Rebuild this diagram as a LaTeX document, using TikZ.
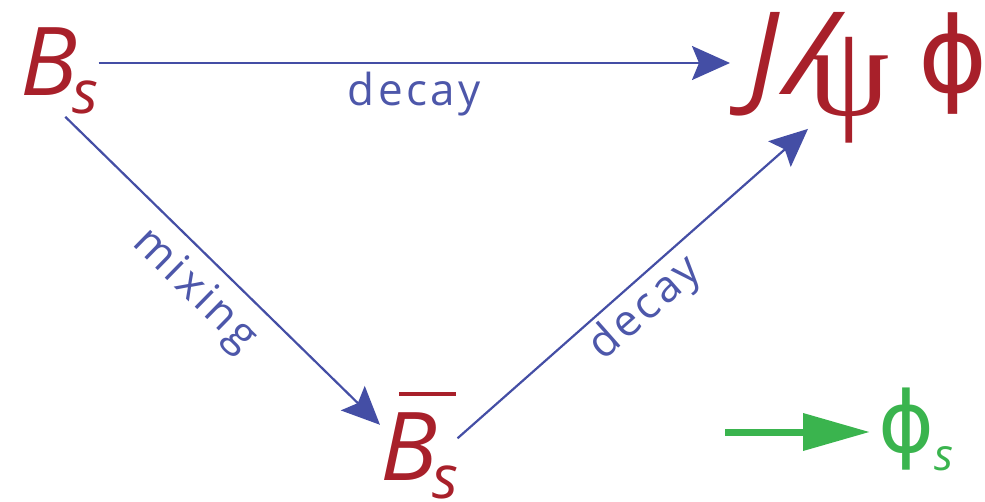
\documentclass[tikz,border=0pt]{standalone}
\usepackage{graphicx}
\usepackage{fontspec}
\setmainfont{Open Sans}
\newfontfamily\greekserif{Liberation Serif}
\newfontfamily\greeksans{DejaVu Sans}
\newfontfamily\lblfont[LetterSpace=8]{Open Sans}
\usetikzlibrary{arrows.meta,positioning}
\definecolor{meson}{RGB}{168,32,42}
\definecolor{trans}{RGB}{68,78,165}
\definecolor{phase}{RGB}{58,180,78}
\newcommand{\lowsub}[2][60]{\raisebox{-18pt}{\fontsize{#1}{#1}\selectfont\itshape #2}}

\begin{document}
\begin{tikzpicture}[x=1pt,y=-1pt,
    part/.style={inner sep=0pt,anchor=base west,text=meson,font=\fontsize{95}{95}\selectfont},
    lbl/.style={inner sep=0pt,text=trans!95,font=\lblfont\fontsize{44}{44}\selectfont},
    arr/.style={draw=trans,line width=2.2pt,-{Stealth[length=38pt,width=34pt,inset=7pt]}}]
      \useasboundingbox (0,0) rectangle (985,501);
      % mesons and final state
      \node[part] (Bs) at (20,95) {\itshape B\kern-0.05em\lowsub{s}};
      \node[part] (Bbar) at (380,480) {\itshape\rlap{\kern0.2em\rule[84pt]{57pt}{4pt}}B\kern-0.05em\lowsub{s}};
      \node[part] (Jpsi) at (748,120) {\raisebox{26pt}{\fontsize{115}{115}\selectfont\itshape J\kern0.06em\scalebox{1.2}[1]{/}}\kern-0.27em\raisebox{5pt}{\greekserif\fontsize{130}{130}\selectfont ψ}\kern0.30em\raisebox{28pt}{\greeksans\fontsize{105}{105}\selectfont ϕ}};
      \node[part,text=phase] (Phis) at (878,452) {{\greeksans\fontsize{85}{85}\selectfont ϕ}\lowsub[44]{s}};
      % transitions
      \coordinate (toprow) at (0,63);
      \draw[arr] (Bs.east |- toprow) -- ([xshift=-18pt]Jpsi.west |- toprow)
        node[lbl,midway,below=8pt]{decay};
      \draw[arr] ([shift={(6,3)}]Bs.south) -- ([shift={(0,33)}]Bbar.north west)
        node[lbl,pos=0.486,sloped,below=12pt]{mixing};
      \draw[arr] ([shift={(-1,-7)}]Bbar.east) -- ([shift={(60,-14)}]Jpsi.south west)
        node[lbl,pos=0.485,sloped,below=5pt]{decay};
      % weak phase
      \coordinate (phtail) at (725,432);
      \draw[phase,line width=7pt,-{Triangle[length=67pt,width=36pt]}] (phtail) -- ([xshift=-8pt]Phis.west |- phtail);
\end{tikzpicture}
\end{document}
